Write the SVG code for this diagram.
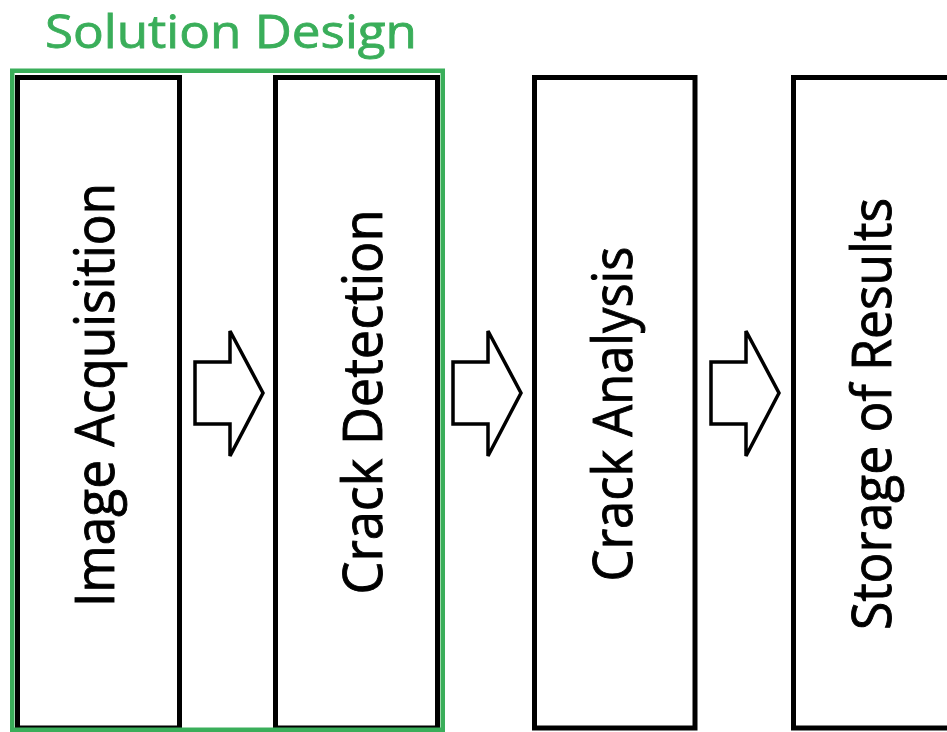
<svg xmlns="http://www.w3.org/2000/svg" xmlns:xlink="http://www.w3.org/1999/xlink" width="947" height="732" viewBox="0 0 947 732">
  <style>
    .box { fill: #ffffff; stroke: #000000; stroke-width: 5; }
    .frame { fill: none; stroke: #3aae5a; stroke-width: 4.5; }
    .label { font-family: "Open Sans", "Noto Sans", "Liberation Sans", sans-serif; font-size: 54px; fill: #000000; stroke: #000000; stroke-width: 0.9; text-anchor: middle; }
    .title { font-family: "Open Sans", "Noto Sans", "Liberation Sans", sans-serif; font-size: 46px; fill: #3aae5a; stroke: #3aae5a; stroke-width: 0.8; text-anchor: middle; }
    .arrow { fill: #ffffff; stroke: #000000; stroke-width: 3.5; stroke-linejoin: miter; }
  </style>
  <defs>
    <!-- block arrow, origin at the tail's upper-left corner -->
    <path id="blockArrow" d="M0,0 H35 V-31 L68,31 L35,94 V62 H0 Z"/>
  </defs>
  <rect width="947" height="732" fill="#ffffff"/>

  <g id="image-acquisition">
    <rect class="box" x="17.5" y="77.5" width="162" height="650.5"/>
    <text class="label" transform="translate(114,395) rotate(-90)" textLength="424" lengthAdjust="spacingAndGlyphs">Image Acquisition</text>
  </g>

  <g id="crack-detection">
    <rect class="box" x="275.5" y="77.5" width="162" height="650.5"/>
    <text class="label" transform="translate(382,402) rotate(-90)" textLength="385" lengthAdjust="spacingAndGlyphs">Crack Detection</text>
  </g>

  <g id="crack-analysis">
    <rect class="box" x="534.5" y="77.5" width="160.5" height="650.5"/>
    <text class="label" transform="translate(632,414) rotate(-90)" textLength="335" lengthAdjust="spacingAndGlyphs">Crack Analysis</text>
  </g>

  <g id="storage-of-results">
    <rect class="box" x="793.5" y="77.5" width="200" height="650.5"/>
    <text class="label" transform="translate(891,414) rotate(-90)" textLength="432" lengthAdjust="spacingAndGlyphs">Storage of Results</text>
  </g>

  <g id="solution-design">
    <rect class="frame" x="12.25" y="70.75" width="430.5" height="659"/>
    <text class="title" x="231" y="48" textLength="372" lengthAdjust="spacingAndGlyphs">Solution Design</text>
  </g>

  <g id="connectors">
    <use xlink:href="#blockArrow" class="arrow" x="195" y="362"/>
    <use xlink:href="#blockArrow" class="arrow" x="453" y="362"/>
    <use xlink:href="#blockArrow" class="arrow" x="711" y="362"/>
  </g>
</svg>
